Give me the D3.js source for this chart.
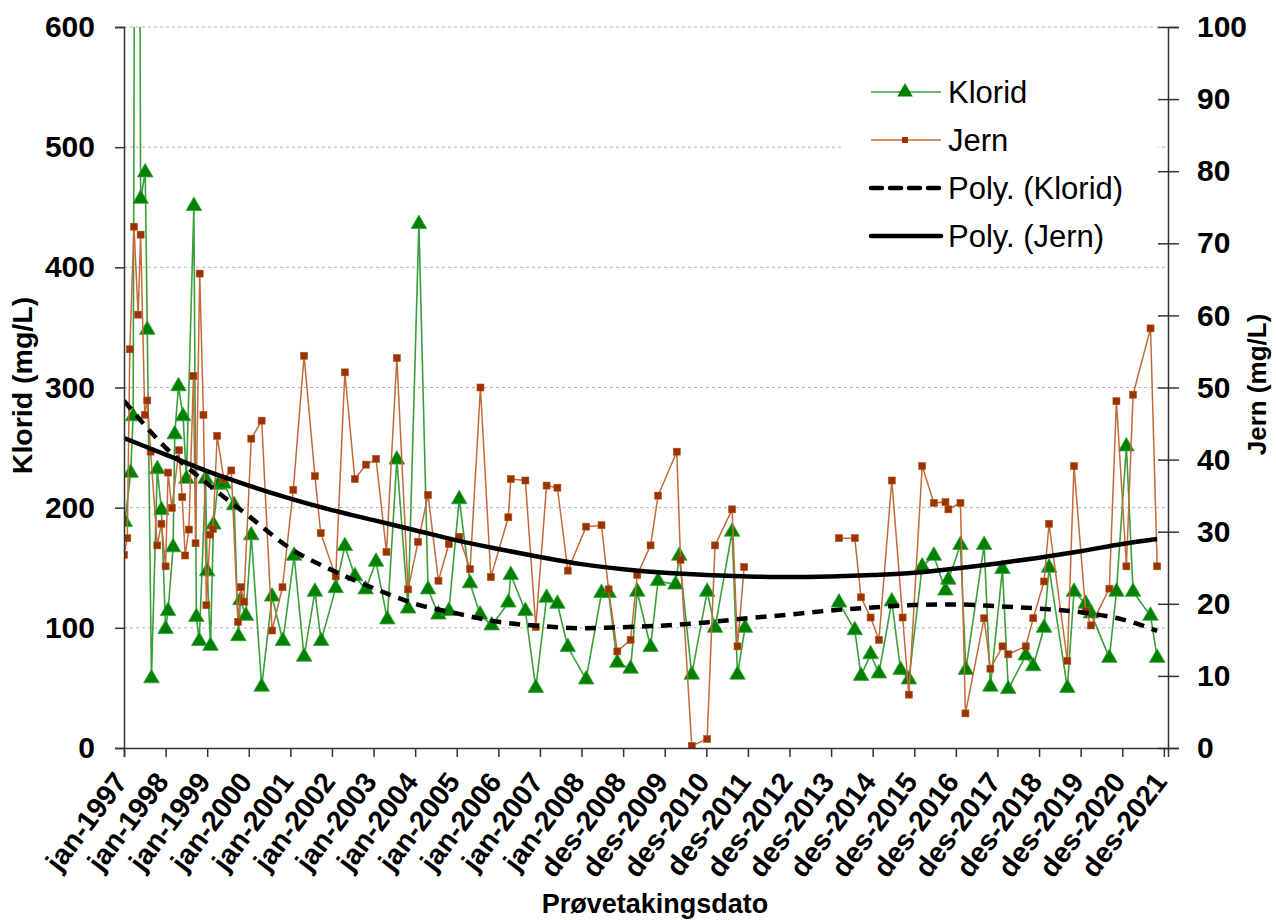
<!DOCTYPE html>
<html>
<head>
<meta charset="utf-8">
<script src="https://cdn.jsdelivr.net/npm/d3@7"></script>
<style>
  body { margin: 0; background: #fff; }
  svg { font-family: "Liberation Sans", Arial, sans-serif; }
  .axis path, .axis line { stroke: #333; stroke-width: 1.5; }
  .axis text { font-weight: bold; fill: #000; }
</style>
</head>
<body>
<script>
// sample dates as decimal years
var kloridDato = [1997.02, 1997.16, 1997.22, 1997.31, 1997.40, 1997.51, 1997.56, 1997.66, 1997.80, 1997.90,
    1998.00, 1998.06, 1998.18, 1998.22, 1998.31, 1998.42, 1998.50, 1998.68, 1998.74, 1998.81,
    1998.96, 1999.00, 1999.08, 1999.15, 1999.26, 1999.40, 1999.65, 1999.75, 1999.80, 1999.93,
    2000.06, 2000.31, 2000.56, 2000.82, 2001.09, 2001.33, 2001.59, 2001.74, 2002.09, 2002.31,
    2002.55, 2002.81, 2003.06, 2003.33, 2003.56, 2003.83, 2004.09, 2004.31, 2004.56, 2004.81,
    2005.06, 2005.32, 2005.56, 2005.84, 2006.24, 2006.30, 2006.65, 2006.90, 2007.16, 2007.42,
    2007.67, 2008.11, 2008.48, 2008.65, 2008.86, 2009.18, 2009.34, 2009.66, 2009.84, 2010.26,
    2010.35, 2010.65, 2011.02, 2011.21, 2011.62, 2011.75, 2011.93, 2013.00, 2014.19, 2014.57,
    2014.72, 2014.95, 2015.15, 2015.46, 2015.67, 2015.87, 2016.19, 2016.47, 2016.75, 2016.82,
    2017.11, 2017.24, 2017.68, 2017.83, 2018.12, 2018.26, 2018.68, 2018.86, 2019.12, 2019.24,
    2019.68, 2019.84, 2020.12, 2020.25, 2020.69, 2020.86, 2021.10, 2021.26, 2021.68, 2021.84];

var klorid = [188, 229, 276, 1400, 457, 479, 348, 58, 232, 198,
    99, 114, 167, 261, 301, 276, 224, 451, 109, 89,
    224, 147, 85, 186, 219, 220, 202, 93, 123, 110,
    177, 51, 126, 89, 160, 76, 130, 89, 133, 168,
    143, 132, 155, 107, 240, 116, 436, 132, 111, 114,
    207, 137, 111, 102, 121, 144, 114, 50, 125, 120,
    84, 57, 129, 129, 71, 66, 130, 84, 139, 136,
    160, 61, 130, 100, 180, 61, 100, null, 121, 98,
    60, 78, 62, 122, 65, 57, 151, 160, 131, 140,
    169, 65, 169, 51, 149, 49, 77, 68, 100, 150,
    50, 130, 120, 112, 75, 130, 251, 130, 110, 75];

var jernDato = [1997.00, 1997.08, 1997.14, 1997.24, 1997.34, 1997.40, 1997.50, 1997.56, 1997.64, 1997.80,
    1997.90, 1998.00, 1998.06, 1998.15, 1998.32, 1998.40, 1998.47, 1998.56, 1998.67, 1998.72,
    1998.82, 1998.91, 1998.98, 1999.07, 1999.14, 1999.24, 1999.40, 1999.58, 1999.74, 1999.81,
    1999.88, 2000.06, 2000.31, 2000.56, 2000.81, 2001.07, 2001.33, 2001.59, 2001.73, 2002.09,
    2002.31, 2002.55, 2002.82, 2003.06, 2003.31, 2003.56, 2003.83, 2004.07, 2004.31, 2004.56,
    2004.81, 2005.06, 2005.32, 2005.57, 2005.82, 2006.24, 2006.30, 2006.65, 2006.90, 2007.16,
    2007.42, 2007.67, 2008.11, 2008.48, 2008.65, 2008.86, 2009.18, 2009.34, 2009.66, 2009.84,
    2010.29, 2010.38, 2010.65, 2011.02, 2011.21, 2011.62, 2011.75, 2011.91, 2013.00, 2014.19,
    2014.57, 2014.72, 2014.95, 2015.15, 2015.46, 2015.72, 2015.87, 2016.19, 2016.47, 2016.75,
    2016.82, 2017.11, 2017.23, 2017.68, 2017.83, 2018.12, 2018.26, 2018.68, 2018.86, 2019.12,
    2019.24, 2019.68, 2019.84, 2020.12, 2020.25, 2020.69, 2020.86, 2021.10, 2021.26, 2021.68,
    2021.84];

var jern = [26.8, 29.1, 55.3, 72.3, 60.1, 71.2, 46.2, 48.2, 41.1, 28.1,
    31.1, 25.2, 38.2, 33.3, 41.3, 34.8, 26.7, 30.3, 51.6, 28.4,
    65.8, 46.2, 19.8, 29.6, 30.4, 43.3, 37.3, 38.5, 17.5, 22.3,
    20.3, 42.9, 45.4, 16.3, 22.3, 35.8, 54.4, 37.7, 29.8, 23.8,
    52.1, 37.3, 39.3, 40.1, 27.2, 54.1, 22.0, 28.6, 35.1, 23.2,
    28.3, 29.3, 24.8, 50.0, 23.7, 32.0, 37.3, 37.1, 16.8, 36.4,
    36.1, 24.6, 30.7, 30.9, 22.0, 13.4, 15.0, 24.0, 28.1, 35.0,
    41.1, 26.1, 0.3, 1.25, 28.1, 33.1, 14.1, 25.1, null, 29.1,
    29.1, 20.9, 18.1, 15.0, 37.1, 18.1, 7.4, 39.1, 34.0, 34.1,
    33.1, 34.0, 4.8, 18.0, 11.0, 14.1, 13.0, 14.1, 18.0, 23.1,
    31.1, 12.1, 39.1, 19.0, 17.0, 22.1, 48.1, 25.2, 49.0, 58.2,
    25.2];

// polynomial trend lines at each year
var trendDato = [1997, 1998, 1999, 2000, 2001, 2002, 2003, 2004, 2005, 2006, 2007, 2008, 2009,
    2010, 2011, 2012, 2013, 2014, 2015, 2016, 2017, 2018, 2019, 2020, 2021, 2021.84];
var polyKlorid = [289, 250, 220, 193, 166, 148, 133, 120, 112, 105, 101.5, 99.7, 100.5,
    102, 104.5, 108, 111, 114.5, 117, 119, 119.5, 118, 116, 113, 107, 97.5];
var polyJern = [43, 40.7, 38.4, 36.4, 34.6, 33, 31.6, 30.2, 28.8, 27.6, 26.5, 25.5, 24.8,
    24.3, 24, 23.8, 23.7, 23.8, 24, 24.3, 24.9, 25.6, 26.4, 27.3, 28.3, 29];

var tickLabels = ["jan-1997", "jan-1998", "jan-1999", "jan-2000", "jan-2001", "jan-2002", "jan-2003",
    "jan-2004", "jan-2005", "jan-2006", "jan-2007", "jan-2008", "des-2008", "des-2009", "des-2010",
    "des-2011", "des-2012", "des-2013", "des-2014", "des-2015", "des-2016", "des-2017", "des-2018",
    "des-2019", "des-2020", "des-2021"];
var kloridTicks = [0, 100, 200, 300, 400, 500, 600];
var jernTicks = [0, 10, 20, 30, 40, 50, 60, 70, 80, 90, 100];

var margin = {top: 27, right: 108, bottom: 172, left: 124},
    width = 1276 - margin.left - margin.right,
    height = 920 - margin.top - margin.bottom;

var DAY = 864e5, STEP = 365.2 * DAY,
    t0 = Date.UTC(1997, 0, 1);

function toDate(yr) { return new Date(t0 + (yr - 1997) * STEP); }

var x = d3.scaleUtc()
    .domain([toDate(1997), toDate(2022.1)])
    .range([0, width]);
var yK = d3.scaleLinear().domain([0, 600]).range([height, 0]);
var yJ = d3.scaleLinear().domain([0, 100]).range([height, 0]);

var svg = d3.select("body").append("svg")
    .attr("width", 1276)
    .attr("height", 920)
  .append("g")
    .attr("transform", "translate(" + margin.left + "," + margin.top + ")");

svg.append("clipPath").attr("id", "plot")
  .append("rect").attr("width", width).attr("height", height);

// gridlines
svg.append("g").selectAll("line")
    .data(kloridTicks.slice(1))
  .enter().append("line")
    .attr("x1", 0).attr("x2", width)
    .attr("y1", function(d) { return yK(d); })
    .attr("y2", function(d) { return yK(d); })
    .attr("stroke", "#b4b4b4")
    .attr("stroke-dasharray", "3,3");

var klData = kloridDato.map(function(d, i) { return {x: toDate(d), y: klorid[i]}; });
var jeData = jernDato.map(function(d, i) { return {x: toDate(d), y: jern[i]}; });

var plot = svg.append("g").attr("clip-path", "url(#plot)");

plot.append("path")
    .datum(klData)
    .attr("fill", "none")
    .attr("stroke", "#3a9f3a")
    .attr("stroke-width", 1.6)
    .attr("d", d3.line()
        .defined(function(d) { return d.y !== null; })
        .x(function(d) { return x(d.x); })
        .y(function(d) { return yK(d.y); }));

plot.selectAll("path.tri")
    .data(klData.filter(function(d) { return d.y !== null; }))
  .enter().append("path")
    .attr("class", "tri")
    .attr("transform", function(d) { return "translate(" + x(d.x) + "," + yK(d.y) + ")"; })
    .attr("d", d3.symbol(d3.symbolTriangle, 105))
    .attr("fill", "#008000")
    .attr("stroke", "#39a339")
    .attr("stroke-width", 0.8);

plot.append("path")
    .datum(jeData)
    .attr("fill", "none")
    .attr("stroke", "#c46a3a")
    .attr("stroke-width", 1.5)
    .attr("d", d3.line()
        .defined(function(d) { return d.y !== null; })
        .x(function(d) { return x(d.x); })
        .y(function(d) { return yJ(d.y); }));

plot.selectAll("rect.sq")
    .data(jeData.filter(function(d) { return d.y !== null; }))
  .enter().append("rect")
    .attr("class", "sq")
    .attr("x", function(d) { return x(d.x) - 3.5; })
    .attr("y", function(d) { return yJ(d.y) - 3.5; })
    .attr("width", 7).attr("height", 7)
    .attr("fill", "#993300")
    .attr("stroke", "#b5531f")
    .attr("stroke-width", 0.6);

// trend lines
plot.append("path")
    .datum(trendDato)
    .attr("fill", "none")
    .attr("stroke", "#000")
    .attr("stroke-width", 4.5)
    .attr("stroke-dasharray", "11,8")
    .attr("d", d3.line().curve(d3.curveMonotoneX)
        .x(function(d) { return x(toDate(d)); })
        .y(function(d, i) { return yK(polyKlorid[i]); }));

plot.append("path")
    .datum(trendDato)
    .attr("fill", "none")
    .attr("stroke", "#000")
    .attr("stroke-width", 4.5)
    .attr("d", d3.line().curve(d3.curveMonotoneX)
        .x(function(d) { return x(toDate(d)); })
        .y(function(d, i) { return yJ(polyJern[i]); }));

// axes
var tickDates = tickLabels.map(function(d, i) { return toDate(1997 + i); });

var xAxis = svg.append("g")
    .attr("class", "axis")
    .attr("transform", "translate(0," + height + ")")
    .call(d3.axisBottom(x).tickValues(tickDates)
        .tickFormat(function(d, i) { return tickLabels[i]; })
        .tickSizeOuter(0).tickSize(9));
xAxis.selectAll("text")
    .style("font-size", "28.5px")
    .attr("text-anchor", "end")
    .attr("dy", null).attr("y", null)
    .attr("transform", "translate(4,34) rotate(-53)");

var leftAxis = svg.append("g")
    .attr("class", "axis")
    .call(d3.axisLeft(yK).tickValues(kloridTicks).tickSizeOuter(0).tickSize(9).tickPadding(20));
leftAxis.selectAll("text").style("font-size", "30px");

var rightAxis = svg.append("g")
    .attr("class", "axis")
    .attr("transform", "translate(" + width + ",0)")
    .call(d3.axisRight(yJ).tickValues(jernTicks).tickSizeOuter(0).tickSize(11).tickPadding(18));
rightAxis.selectAll(".tick line").attr("x1", -10);
rightAxis.selectAll("text").style("font-size", "30px");

// axis titles
svg.append("text")
    .attr("transform", "translate(" + (-92) + "," + (height / 2 - 2) + ") rotate(-90)")
    .attr("text-anchor", "middle")
    .style("font-weight", "bold").style("font-size", "28.5px")
    .text("Klorid  (mg/L)");

svg.append("text")
    .attr("transform", "translate(" + (width + 98) + "," + (height / 2 - 3) + ") rotate(-90)")
    .attr("text-anchor", "middle")
    .style("font-weight", "bold").style("font-size", "26px")
    .text("Jern (mg/L)");

svg.append("text")
    .attr("x", 655 - margin.left)
    .attr("y", 913 - margin.top)
    .attr("text-anchor", "middle")
    .style("font-weight", "bold").style("font-size", "27px")
    .text("Prøvetakingsdato");

// legend
var legend = svg.append("g")
    .attr("transform", "translate(" + (843 - margin.left) + "," + (58 - margin.top) + ")");
legend.append("rect")
    .attr("width", 315).attr("height", 204)
    .attr("fill", "#fff");

var items = [
    {name: "Klorid", color: "#3a9f3a", w: 1.6, dash: null, mark: "tri"},
    {name: "Jern", color: "#c46a3a", w: 1.5, dash: null, mark: "sq"},
    {name: "Poly. (Klorid)", color: "#000", w: 4.5, dash: "11,8", mark: null},
    {name: "Poly. (Jern)", color: "#000", w: 4.5, dash: null, mark: null}
];

var row = legend.selectAll("g.item")
    .data(items)
  .enter().append("g")
    .attr("class", "item")
    .attr("transform", function(d, i) { return "translate(0," + (34 + i * 48) + ")"; });

row.append("line")
    .attr("x1", 28).attr("x2", 98)
    .attr("stroke", function(d) { return d.color; })
    .attr("stroke-width", function(d) { return d.w; })
    .attr("stroke-dasharray", function(d) { return d.dash; })
    .attr("stroke-linecap", function(d) { return d.mark ? "butt" : "round"; });

row.filter(function(d) { return d.mark === "tri"; }).append("path")
    .attr("transform", "translate(62,0)")
    .attr("d", d3.symbol(d3.symbolTriangle, 105))
    .attr("fill", "#008000");

row.filter(function(d) { return d.mark === "sq"; }).append("rect")
    .attr("x", 59).attr("y", -3).attr("width", 6).attr("height", 6)
    .attr("fill", "#993300");

row.append("text")
    .attr("x", 105)
    .attr("dy", "0.36em")
    .style("font-size", "31px")
    .text(function(d) { return d.name; });
</script>
</body>
</html>
